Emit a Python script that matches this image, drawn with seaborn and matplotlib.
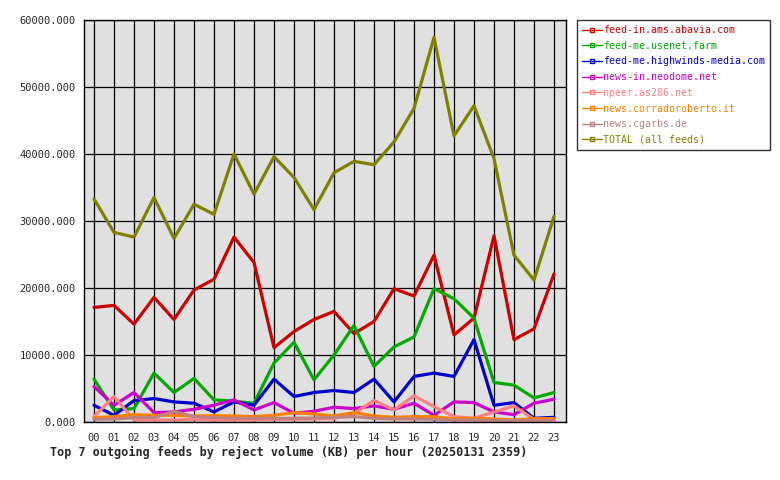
import matplotlib
matplotlib.use("Agg")
import matplotlib.pyplot as plt
from matplotlib.lines import Line2D
from matplotlib.ticker import FormatStrFormatter
import seaborn as sns
import pandas as pd

# hourly reject volume (KB) per outgoing feed
hours = [f"{h:02d}" for h in range(24)]
feeds = ["feed-in.ams.abavia.com", "feed-me.usenet.farm", "feed-me.highwinds-media.com",
         "news-in.neodome.net", "npeer.as286.net", "news.corradoroberto.it",
         "news.cgarbs.de", "TOTAL (all feeds)"]
colors = ["#cc0000", "#00aa00", "#0000cc", "#cc00cc", "#ff8080", "#ff8000", "#c08080", "#808000"]

abavia = [17100, 17400, 14600, 18600, 15300, 19700, 21300, 27600, 23800, 11100, 13500, 15300,
          16500, 13200, 15000, 19900, 18800, 24900, 13000, 15500, 27800, 12300, 13900, 22100]
usenet_farm = [6400, 1800, 2000, 7300, 4400, 6500, 3300, 3100, 2800, 8800, 11900, 6300,
               10000, 14400, 8300, 11200, 12700, 19900, 18400, 15500, 5900, 5500, 3600, 4400]
highwinds = [2500, 1000, 3200, 3500, 3000, 2800, 1500, 3000, 2500, 6400, 3800, 4400,
             4700, 4400, 6400, 3000, 6800, 7300, 6800, 12300, 2500, 2900, 550, 700]
neodome = [5300, 2500, 4400, 1400, 1500, 1900, 2500, 3300, 1800, 2900, 1300, 1600,
           2200, 2000, 2400, 1900, 2800, 1000, 3000, 2900, 1500, 1100, 2800, 3400]
as286 = [800, 3800, 300, 300, 300, 400, 300, 300, 300, 400, 400, 450,
         500, 1300, 3200, 1800, 3900, 2300, 800, 550, 1500, 2400, 400, 400]
corradoroberto = [640, 800, 1100, 1000, 1000, 900, 950, 900, 800, 1000, 1400, 1200,
                  900, 1400, 900, 700, 800, 800, 450, 550, 450, 300, 500, 500]
cgarbs = [400, 450, 640, 640, 1600, 800, 640, 550, 550, 550, 550, 600,
          700, 800, 550, 450, 450, 400, 300, 300, 200, 200, 200, 200]
total = [33300, 28300, 27600, 33500, 27400, 32500, 31000, 40000, 34000, 39600, 36500, 31700,
         37200, 38900, 38400, 41800, 46800, 57400, 42700, 47200, 39300, 24900, 21200, 30700]

series = [abavia, usenet_farm, highwinds, neodome, as286, corradoroberto, cgarbs, total]
df = pd.concat([pd.DataFrame({"hour": range(24), "kb": vals, "feed": name})
                for name, vals in zip(feeds, series)], ignore_index=True)

sns.set_style("white")
plt.rcParams["font.family"] = ["DejaVu Sans Mono", "DejaVu Sans"]

fig = plt.figure(figsize=(7.8, 4.8), dpi=100)
ax = fig.add_axes([84 / 780, 58 / 480, 482 / 780, 402 / 480])
ax.set_facecolor("#e0e0e0")

sns.lineplot(data=df, x="hour", y="kb", hue="feed", hue_order=feeds,
             palette=colors, linewidth=2.3, ax=ax, legend=False)

ax.set_xlim(-0.5, 23.6)
ax.set_ylim(0, 60000)
ax.set_xticks(range(24))
ax.set_xticklabels(hours, fontsize=7.5)
ax.set_yticks(range(0, 60001, 10000))
ax.yaxis.set_major_formatter(FormatStrFormatter("%.3f"))
ax.tick_params(axis="y", labelsize=7.5, length=4, width=1, color="black", pad=2)
ax.tick_params(axis="x", length=4, width=1, color="black", pad=4)
ax.grid(True, color="black", linewidth=0.9)
ax.set_axisbelow(True)
for sp in ax.spines.values():
    sp.set_color("black")
    sp.set_linewidth(1.0)
ax.set_xlabel("")
ax.set_ylabel("")

handles = [Line2D([0], [0], color=c, linewidth=1.0, marker="s", markersize=2.5,
                  markerfacecolor="none", markeredgecolor=c) for c in colors]
leg = ax.legend(handles, feeds, loc="upper left", bbox_to_anchor=(1.022, 1.0),
                fontsize=7.2, frameon=True, fancybox=False, handlelength=2.0,
                handletextpad=0.1, labelspacing=0.57, borderpad=0.5, borderaxespad=0)
leg.get_frame().set_edgecolor("black")
leg.get_frame().set_linewidth(1.0)
for txt, c in zip(leg.get_texts(), colors):
    txt.set_color(c)

fig.text(50 / 780, 1 - 452 / 480,
         "Top 7 outgoing feeds by reject volume (KB) per hour (20250131 2359)",
         fontsize=8.5, fontweight="bold", ha="left", va="center")

fig.savefig("out.png", dpi=100)
